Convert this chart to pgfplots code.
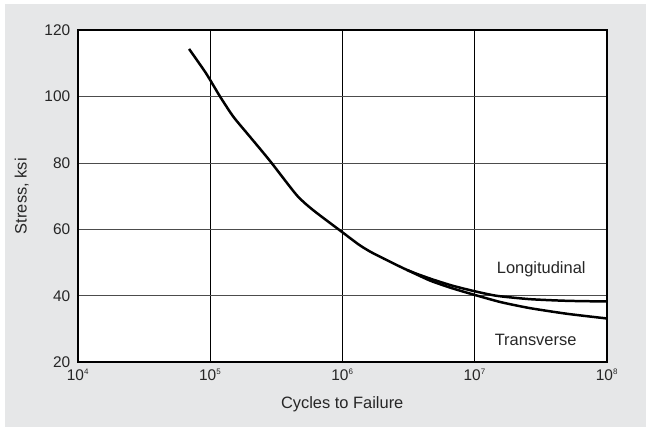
\documentclass[border=0pt]{standalone}
\usepackage{pgfplots}
\pgfplotsset{compat=1.18}
\usepackage{fontspec}
\setmainfont{Liberation Sans}
\definecolor{bggray}{HTML}{E6E7E8}
\newcommand{\tp}[1]{10\raisebox{0.75ex}{\fontsize{8}{8}\selectfont #1}}
\begin{document}
\begin{tikzpicture}[x=1bp,y=1bp]
\fill[white] (0,0) rectangle (646,427);
\fill[bggray] (5,0) rectangle (646,423);
\begin{axis}[
  at={(77.7bp,64.7bp)}, anchor=south west,
  scale only axis, width=529bp, height=332.3bp,
  xmode=log, xmin=1e4, xmax=1e8, ymin=20, ymax=120,
  xtick={1e4,1e5,1e6,1e7,1e8},
  xticklabels={\tp{4},\tp{5},\tp{6},\tp{7},\tp{8}},
  ytick={20,40,60,80,100,120},
  major tick length=0pt,
  minor tick length=0pt,
  xminorticks=false, yminorticks=false,
  xminorgrids=false, yminorgrids=false,
  grid=major,
  x grid style={black, line width=0.8pt},
  y grid style={black!70, line width=0.8pt},
  axis line style={black, line width=2.2pt},
  axis background/.style={fill=white},
  /pgf/number format/assume math mode=true,
  ticklabel style={font=\fontsize{15.5}{18}\selectfont, text=black!85},
  yticklabel style={xshift=-4bp},
  xticklabel style={yshift=-3bp},
  xlabel={Cycles to Failure},
  ylabel={Stress, ksi},
  label style={font=\fontsize{16.5}{19}\selectfont, text=black!85},
  xlabel style={at={(axis description cs:0.5,0)}, anchor=center, yshift=-42bp},
  ylabel style={at={(axis description cs:0,0.5)}, anchor=center, yshift=56bp},
  clip=false,
]
\addplot[black, line width=2.5pt, smooth, tension=0.4] coordinates {
(69500,114.3) (93300,107.0) (119100,100.0) (150300,93.9) (199500,88.0)
(284400,80.6) (452900,70.3) (602600,65.8) (990800,59.3) (1349000,55.3)
(1718000,52.8) (3090000,47.8) (4613000,45.2) (6761000,43.1) (1e7,41.4)
(14790000,40.0) (26300000,39.0) (50120000,38.5) (1e8,38.3)};
\addplot[black, line width=2.5pt, smooth, tension=0.4] coordinates {
(3090000,47.8) (4613000,44.6) (6761000,42.3) (1e7,40.3) (15850000,38.1)
(26300000,36.3) (50120000,34.6) (1e8,33.2)};
\node[font=\fontsize{16.5}{19}\selectfont, text=black!85] at (axis cs:3.2e7,48.1) {Longitudinal};
\node[font=\fontsize{16.5}{19}\selectfont, text=black!85] at (axis cs:2.9e7,26.7) {Transverse};
\end{axis}
\end{tikzpicture}
\end{document}
